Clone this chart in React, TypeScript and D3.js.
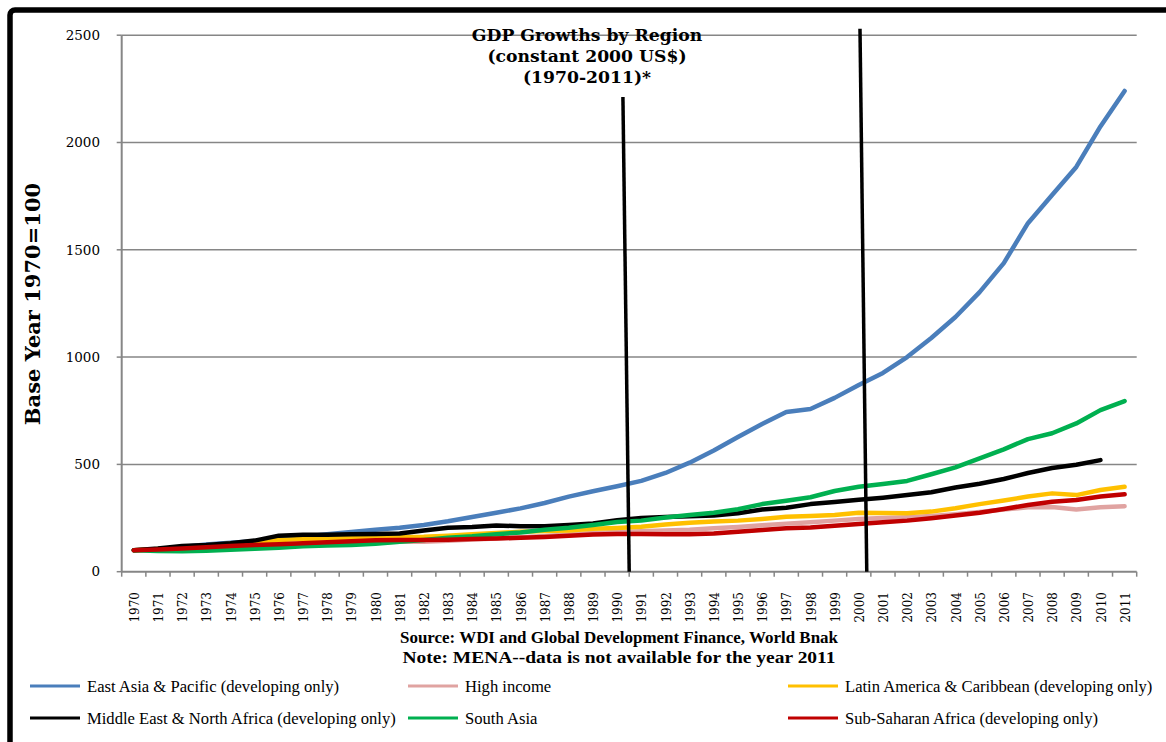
import React from "react";
import * as d3 from "d3";

const years: number[] = [
  1970, 1971, 1972, 1973, 1974, 1975, 1976, 1977, 1978, 1979, 1980, 1981, 1982, 1983,
  1984, 1985, 1986, 1987, 1988, 1989, 1990, 1991, 1992, 1993, 1994, 1995, 1996, 1997,
  1998, 1999, 2000, 2001, 2002, 2003, 2004, 2005, 2006, 2007, 2008, 2009, 2010, 2011,
];

const eastAsia: (number | null)[] = [
  100, 106, 115, 127, 135, 142, 155, 163, 175, 185, 195, 205, 218, 235, 255, 275, 295, 320,
  350, 375, 398, 423, 460, 508, 565, 628, 688, 744, 758, 810, 870, 926, 1000, 1089, 1187,
  1303, 1438, 1624, 1755, 1886, 2075, 2240,
];
const highIncome: (number | null)[] = [
  100, 103, 109, 115, 116, 116, 121, 126, 131, 135, 137, 139, 139, 144, 150, 155, 160, 166,
  173, 180, 185, 188, 192, 195, 202, 208, 216, 224, 230, 238, 246, 250, 254, 260, 268, 278,
  290, 300, 302, 290, 300, 305,
];
const latinAmerica: (number | null)[] = [
  100, 106, 113, 122, 130, 135, 148, 152, 155, 158, 162, 162, 163, 168, 175, 180, 186, 190,
  192, 200, 204, 210, 220, 228, 234, 238, 246, 256, 260, 264, 275, 274, 272, 280, 296, 315,
  332, 350, 365, 357, 381, 396,
];
const mena: (number | null)[] = [
  100, 108, 120, 125, 133, 145, 168, 172, 172, 175, 176, 178, 192, 205, 208, 215, 212, 212,
  218, 225, 240, 250, 255, 258, 262, 272, 290, 298, 315, 325, 335, 345, 357, 370, 392, 410,
  432, 460, 483, 498, 520, null,
];
const southAsia: (number | null)[] = [
  100, 97, 95, 98, 102, 107, 112, 118, 122, 124, 130, 140, 148, 158, 165, 175, 183, 195,
  205, 218, 232, 238, 253, 264, 275, 291, 315, 331, 347, 376, 396, 409, 423, 454, 486, 528,
  570, 618, 645, 691, 753, 795,
];
const subSaharan: (number | null)[] = [
  100, 104, 108, 114, 120, 124, 128, 132, 137, 142, 146, 148, 148, 149, 152, 155, 158, 162,
  168, 173, 176, 176, 174, 174, 178, 186, 194, 202, 206, 214, 222, 230, 238, 249, 262, 275,
  292, 311, 326, 334, 350, 361,
];

const seriesNames: string[] = [
  "East Asia & Pacific (developing only)",
  "High income",
  "Latin America & Caribbean (developing only)",
  "Middle East & North Africa (developing only)",
  "South Asia",
  "Sub-Saharan Africa (developing only)",
];
const seriesValues = [eastAsia, highIncome, latinAmerica, mena, southAsia, subSaharan];
const seriesColors: string[] = ["#4A7EBB", "#E0A3A1", "#FFC000", "#000000", "#00B050", "#C00000"];

const yTicks: number[] = [0, 500, 1000, 1500, 2000, 2500];

const titleLines: string[] = ["GDP Growths by Region", "(constant 2000 US$)", "(1970-2011)*"];
const yAxisTitle = "Base Year 1970=100";
const sourceLines: string[] = [
  "Source: WDI and Global Development Finance, World Bnak",
  "Note: MENA--data is not available for the year 2011",
];

// hand-drawn annotation lines: [yearTop, valueTop, yearBottom, valueBottom]
const annotationLines: number[][] = [
  [1990.24, 2212, 1990.5, 0],
  [2000.05, 2530, 2000.33, 0],
];

const W = 1166;
const H = 742;
const plotLeft = 121.7;
const plotRight = 1136.7;
const plotBottom = 571.7;
const plotTop = 35.2;

export default function App() {
  const xBand = d3.scaleBand<number>().domain(years).range([plotLeft, plotRight]);
  const bw = xBand.bandwidth();
  const xc = (yr: number) => (xBand(yr) as number) + bw / 2;
  const xLin = d3.scaleLinear().domain([1970, 2011]).range([xc(1970), xc(2011)]);
  const y = d3.scaleLinear().domain([0, 2500]).range([plotBottom, plotTop]);

  const line = d3
    .line<number | null>()
    .defined((d) => d !== null)
    .x((_, i) => xc(years[i]))
    .y((d) => y(d as number))
    .curve(d3.curveLinear);

  const gridColor = "#868686";
  const serif = "'DejaVu Serif', Georgia, serif";
  const condensedSerif = "'Liberation Serif', 'Times New Roman', serif";

  const boundaries = years.map((yr) => xBand(yr) as number).concat([plotRight]);

  const legendCols = [30, 408, 788];
  const legendRows = [686, 718];
  const sourceWidths = [438, 433];

  return (
    <svg
      width={W}
      height={H}
      style={{ position: "absolute", left: 0, top: 0, background: "#fff" }}
    >
      <rect x={0} y={0} width={W} height={H} fill="#fff" />
      <rect x={10} y={10} width={W + 20} height={H + 20} rx={5} fill="none" stroke="#000" strokeWidth={5.5} />

      {/* gridlines */}
      {yTicks.map((t) => (
        <g key={t}>
          {t > 0 && (
            <line x1={plotLeft} x2={plotRight} y1={y(t)} y2={y(t)} stroke={gridColor} strokeWidth={1.5} />
          )}
          <line x1={plotLeft - 5} x2={plotLeft} y1={y(t)} y2={y(t)} stroke={gridColor} strokeWidth={1.5} />
          <text
            x={100}
            y={y(t)}
            dy="0.35em"
            textAnchor="end"
            fontFamily={serif}
            fontSize={13.5}
            fill="#000"
          >
            {t}
          </text>
        </g>
      ))}

      {/* axes */}
      <line x1={plotLeft} x2={plotLeft} y1={plotTop} y2={plotBottom} stroke={gridColor} strokeWidth={2} />
      <line x1={plotLeft} x2={plotRight} y1={plotBottom} y2={plotBottom} stroke={gridColor} strokeWidth={2} />
      {boundaries.map((bx, i) => (
        <line key={i} x1={bx} x2={bx} y1={plotBottom} y2={plotBottom + 5} stroke={gridColor} strokeWidth={1.5} />
      ))}
      {years.map((yr) => (
        <text
          key={yr}
          transform={`translate(${xc(yr) + 1},592) rotate(-90)`}
          dy="0.35em"
          textAnchor="end"
          fontFamily={serif}
          fontSize={12}
          fill="#000"
        >
          {yr}
        </text>
      ))}

      {/* title */}
      {titleLines.map((t, i) => (
        <text
          key={i}
          x={587}
          y={[35, 56, 77][i]}
          dy="0.35em"
          textAnchor="middle"
          fontFamily={serif}
          fontWeight="bold"
          fontSize={17.2}
          fill="#000"
        >
          {t}
        </text>
      ))}

      {/* y axis title */}
      <text
        transform="translate(33,304) rotate(-90)"
        dy="0.35em"
        textAnchor="middle"
        fontFamily={serif}
        fontWeight="bold"
        fontSize={21}
        fill="#000"
      >
        {yAxisTitle}
      </text>

      {/* series */}
      {seriesValues.map((vals, k) => (
        <path
          key={k}
          d={line(vals) || ""}
          fill="none"
          stroke={seriesColors[k]}
          strokeWidth={4.5}
          strokeLinejoin="round"
          strokeLinecap="round"
        />
      ))}

      {/* annotation lines */}
      {annotationLines.map((a, i) => (
        <line
          key={i}
          x1={xLin(a[0])}
          y1={y(a[1])}
          x2={xLin(a[2])}
          y2={y(a[3])}
          stroke="#000"
          strokeWidth={3.5}
        />
      ))}

      {/* source notes */}
      {sourceLines.map((t, i) => (
        <text
          key={i}
          x={619}
          y={[637, 657][i]}
          dy="0.35em"
          textAnchor="middle"
          fontFamily={condensedSerif}
          fontWeight="bold"
          fontSize={16.5}
          textLength={sourceWidths[i]}
          lengthAdjust="spacingAndGlyphs"
          fill="#000"
        >
          {t}
        </text>
      ))}

      {/* legend */}
      {seriesNames.map((name, k) => {
        const cx = legendCols[k % 3];
        const cy = legendRows[Math.floor(k / 3)];
        return (
          <g key={name}>
            <line x1={cx} x2={cx + 50} y1={cy} y2={cy} stroke={seriesColors[k]} strokeWidth={3} />
            <text
              x={cx + 57}
              y={cy}
              dy="0.35em"
              fontFamily={condensedSerif}
              fontSize={16.6}
              fill="#000"
            >
              {name}
            </text>
          </g>
        );
      })}
    </svg>
  );
}
